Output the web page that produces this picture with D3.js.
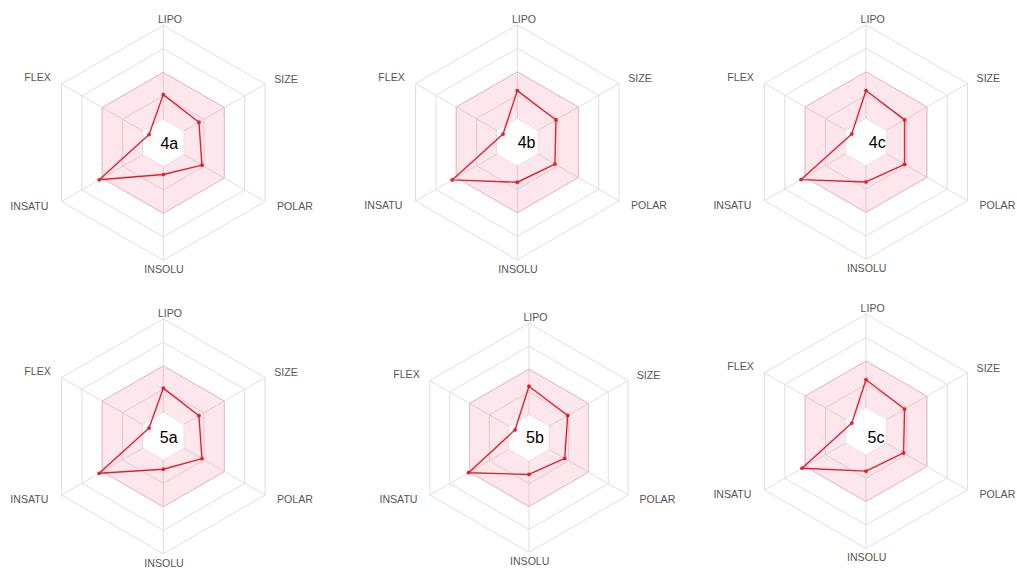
<!DOCTYPE html>
<html>
<head>
<meta charset="utf-8">
<script src="https://cdn.jsdelivr.net/npm/d3@7"></script>
<style>
  html, body { margin: 0; padding: 0; background: #fff; }
  svg { display: block; }
</style>
</head>
<body>
<svg id="chart" width="1017" height="568"></svg>
<script>
// ---- data ----
const axes = ["LIPO", "SIZE", "POLAR", "INSOLU", "INSATU", "FLEX"];
const molecules = ["4a", "4b", "4c", "5a", "5b", "5c"];
const values4a = [0.41, 0.35, 0.38, 0.27, 0.63, 0.14];
const values4b = [0.44, 0.38, 0.37, 0.34, 0.64, 0.14];
const values4c = [0.44, 0.38, 0.38, 0.34, 0.64, 0.14];
const values5a = [0.41, 0.35, 0.38, 0.28, 0.63, 0.14];
const values5b = [0.45, 0.39, 0.36, 0.32, 0.61, 0.14];
const values5c = [0.44, 0.38, 0.37, 0.34, 0.63, 0.14];
const ringTicks = [0.2, 0.4, 0.6, 0.8, 1.0];
const optimalRange = [0.2, 0.6];

const seriesValues = [values4a, values4b, values4c, values5a, values5b, values5c];

// ---- layout (positions / sizes) ----
const panels = [
  { cx: 163.3, cy: 142.8, R: 117.5, lx: 6.0, ly: 0.0 },
  { cx: 517.3, cy: 142.3, R: 117.5, lx: 9.3, ly: 0.4 },
  { cx: 866.0, cy: 142.1, R: 117.2, lx: 11.3, ly: 0.0 },
  { cx: 163.3, cy: 436.3, R: 117.5, lx: 5.4, ly: 1.0 },
  { cx: 529.0, cy: 437.8, R: 114.5, lx: 6.0, ly: -0.5 },
  { cx: 866.0, cy: 431.3, R: 117.2, lx: 10.0, ly: 6.0 }
];
// axis label offsets, in units of panel radius
const labelOffsets = [
  [0.057, -1.049], [1.044, -0.542], [1.121, 0.539],
  [0.006, 1.078], [-1.140, 0.539], [-1.070, -0.556]
];

const svg = d3.select("#chart");
const angle = d3.scaleBand().domain(axes).range([0, 2 * Math.PI]).paddingInner(0).paddingOuter(0);
const angleOf = a => angle(a) - Math.PI / 2;

molecules.forEach((name, i) => {
  const p = panels[i];
  const r = d3.scaleLinear().domain([0, 1]).range([0, p.R]);
  const g = svg.append("g").attr("transform", `translate(${p.cx},${p.cy})`);
  const pt = (a, v) => [Math.cos(angleOf(a)) * r(v), Math.sin(angleOf(a)) * r(v)];
  const hexPath = v => "M" + axes.map(a => pt(a, v).join(",")).join("L") + "Z";

  // grid rings
  g.selectAll("path.ring").data(ringTicks).join("path")
    .attr("class", "ring")
    .attr("d", d => hexPath(d))
    .attr("fill", "none")
    .attr("stroke", "#e2dde0")
    .attr("stroke-width", 1);

  // axes spokes
  g.selectAll("line.spoke").data(axes).join("line")
    .attr("class", "spoke")
    .attr("x1", 0).attr("y1", 0)
    .attr("x2", d => pt(d, 1)[0]).attr("y2", d => pt(d, 1)[1])
    .attr("stroke", "#e2dde0")
    .attr("stroke-width", 1);

  // optimal (pink) band
  g.append("path")
    .attr("d", hexPath(optimalRange[1]) + hexPath(optimalRange[0]))
    .attr("fill-rule", "evenodd")
    .attr("fill", "rgba(240, 60, 100, 0.12)")
    .attr("stroke", "none");
  g.append("path")
    .attr("d", hexPath(optimalRange[1]))
    .attr("fill", "none")
    .attr("stroke", "#e9bcc7")
    .attr("stroke-width", 1);
  g.append("path")
    .attr("d", hexPath(optimalRange[0]))
    .attr("fill", "#fff")
    .attr("stroke", "none");

  // axis labels
  g.selectAll("text.axis").data(axes).join("text")
    .attr("class", "axis")
    .attr("x", (d, k) => labelOffsets[k][0] * p.R)
    .attr("y", (d, k) => labelOffsets[k][1] * p.R)
    .attr("dy", "0.35em")
    .attr("text-anchor", "middle")
    .attr("font-family", "Liberation Sans, Arial, sans-serif")
    .attr("font-size", 10.6)
    .attr("fill", "#555")
    .text(d => d);

  // molecule label
  g.append("text")
    .attr("x", p.lx)
    .attr("y", p.ly)
    .attr("dy", "0.36em")
    .attr("text-anchor", "middle")
    .attr("font-family", "Liberation Sans, Arial, sans-serif")
    .attr("font-size", 16)
    .attr("fill", "#000")
    .text(name);

  // data polygon
  const vals = seriesValues[i];
  const line = d3.lineRadial()
    .angle((d, k) => angle(axes[k]))
    .radius(d => r(d))
    .curve(d3.curveLinearClosed);
  g.append("path")
    .attr("d", line(vals))
    .attr("fill", "none")
    .attr("stroke", "#e3202c")
    .attr("stroke-width", 1.4)
    .attr("stroke-linejoin", "round");

  g.selectAll("circle.pt").data(vals).join("circle")
    .attr("class", "pt")
    .attr("cx", (d, k) => pt(axes[k], d)[0])
    .attr("cy", (d, k) => pt(axes[k], d)[1])
    .attr("r", 1.9)
    .attr("fill", "#e3202c");
});
</script>
</body>
</html>
